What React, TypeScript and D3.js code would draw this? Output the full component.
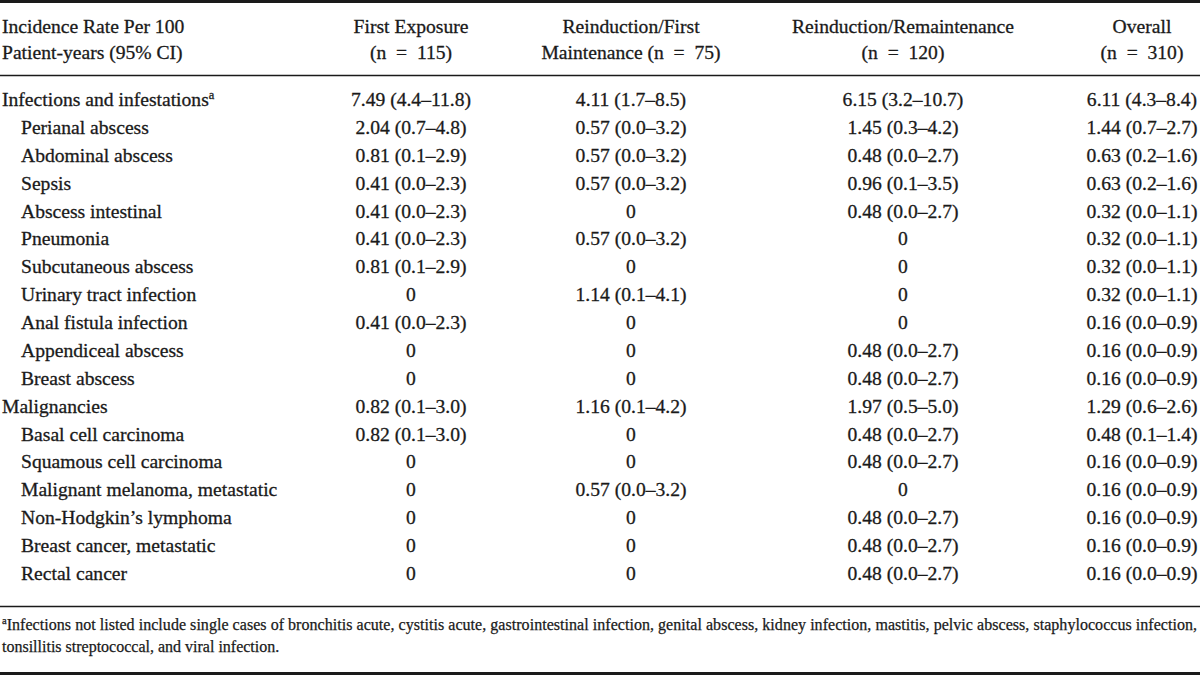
import React from "react";
import * as d3 from "d3";

const headerLine1 = ["Incidence Rate Per 100", "First Exposure", "Reinduction/First", "Reinduction/Remaintenance", "Overall"];
const headerLine2 = ["Patient-years (95% CI)", "(n = 115)", "Maintenance (n = 75)", "(n = 120)", "(n = 310)"];

const rowLabels = [
  "Infections and infestations",
  "Perianal abscess",
  "Abdominal abscess",
  "Sepsis",
  "Abscess intestinal",
  "Pneumonia",
  "Subcutaneous abscess",
  "Urinary tract infection",
  "Anal fistula infection",
  "Appendiceal abscess",
  "Breast abscess",
  "Malignancies",
  "Basal cell carcinoma",
  "Squamous cell carcinoma",
  "Malignant melanoma, metastatic",
  "Non-Hodgkin\u2019s lymphoma",
  "Breast cancer, metastatic",
  "Rectal cancer",
];
const rowLevels = [0, 1, 1, 1, 1, 1, 1, 1, 1, 1, 1, 0, 1, 1, 1, 1, 1, 1];
const rowSup = ["a", "", "", "", "", "", "", "", "", "", "", "", "", "", "", "", "", ""];

const firstExposure = [
  "7.49 (4.4\u201311.8)", "2.04 (0.7\u20134.8)", "0.81 (0.1\u20132.9)", "0.41 (0.0\u20132.3)", "0.41 (0.0\u20132.3)",
  "0.41 (0.0\u20132.3)", "0.81 (0.1\u20132.9)", "0", "0.41 (0.0\u20132.3)", "0", "0",
  "0.82 (0.1\u20133.0)", "0.82 (0.1\u20133.0)", "0", "0", "0", "0", "0",
];
const reinductionFirst = [
  "4.11 (1.7\u20138.5)", "0.57 (0.0\u20133.2)", "0.57 (0.0\u20133.2)", "0.57 (0.0\u20133.2)", "0",
  "0.57 (0.0\u20133.2)", "0", "1.14 (0.1\u20134.1)", "0", "0", "0",
  "1.16 (0.1\u20134.2)", "0", "0", "0.57 (0.0\u20133.2)", "0", "0", "0",
];
const reinductionRemaint = [
  "6.15 (3.2\u201310.7)", "1.45 (0.3\u20134.2)", "0.48 (0.0\u20132.7)", "0.96 (0.1\u20133.5)", "0.48 (0.0\u20132.7)",
  "0", "0", "0", "0", "0.48 (0.0\u20132.7)", "0.48 (0.0\u20132.7)",
  "1.97 (0.5\u20135.0)", "0.48 (0.0\u20132.7)", "0.48 (0.0\u20132.7)", "0", "0.48 (0.0\u20132.7)", "0.48 (0.0\u20132.7)", "0.48 (0.0\u20132.7)",
];
const overall = [
  "6.11 (4.3\u20138.4)", "1.44 (0.7\u20132.7)", "0.63 (0.2\u20131.6)", "0.63 (0.2\u20131.6)", "0.32 (0.0\u20131.1)",
  "0.32 (0.0\u20131.1)", "0.32 (0.0\u20131.1)", "0.32 (0.0\u20131.1)", "0.16 (0.0\u20130.9)", "0.16 (0.0\u20130.9)", "0.16 (0.0\u20130.9)",
  "1.29 (0.6\u20132.6)", "0.48 (0.1\u20131.4)", "0.16 (0.0\u20130.9)", "0.16 (0.0\u20130.9)", "0.16 (0.0\u20130.9)", "0.16 (0.0\u20130.9)", "0.16 (0.0\u20130.9)",
];

const footnoteLines = [
  "Infections not listed include single cases of bronchitis acute, cystitis acute, gastrointestinal infection, genital abscess, kidney infection, mastitis, pelvic abscess, staphylococcus infection,",
  "tonsillitis streptococcal, and viral infection.",
];

const W = 1200;
const H = 675;
const FONT = "'Liberation Serif', 'Times New Roman', serif";
const INK = "#1a1a1a";
const FS = 19.6;

export default function App() {
  const dataCols = [firstExposure, reinductionFirst, reinductionRemaint, overall];
  const colX = d3.scaleOrdinal<number, number>().domain([0, 1, 2, 3]).range([411, 631, 903, 1142]);
  const rowY = d3.scalePoint<number>().domain(d3.range(rowLabels.length)).range([106, 580]);
  const indent = d3.scaleOrdinal<number, number>().domain([0, 1]).range([2, 21]);

  // widen the spaces around "=" as in the typeset original
  const fmtHeader = (t: string) => t.replace(/ = /g, "\u2002=\u2002");

  return (
    <div style={{ position: "absolute", left: 0, top: 0, width: W, height: H, background: "#fff" }}>
      <svg width={W} height={H} style={{ display: "block" }} fontFamily={FONT} fill={INK}
        stroke={INK} strokeWidth={0.3}>
        <rect x={0} y={0} width={W} height={H} fill="#fff" stroke="none" />
        {/* rules */}
        <line x1={0} x2={W} y1={1.5} y2={1.5} stroke={INK} strokeWidth={3} />
        <line x1={0} x2={W} y1={75.5} y2={75.5} stroke={INK} strokeWidth={1.5} />
        <line x1={0} x2={W} y1={606.5} y2={606.5} stroke={INK} strokeWidth={1.5} />
        <line x1={0} x2={W} y1={673.5} y2={673.5} stroke={INK} strokeWidth={3} />

        {/* header */}
        {headerLine1.map((t, i) => (
          <text key={"h1" + i} x={i === 0 ? 2 : colX(i - 1)} y={33} fontSize={FS}
            textAnchor={i === 0 ? "start" : "middle"}>{fmtHeader(t)}</text>
        ))}
        {headerLine2.map((t, i) => (
          <text key={"h2" + i} x={i === 0 ? 2 : colX(i - 1)} y={59} fontSize={FS}
            textAnchor={i === 0 ? "start" : "middle"}>{fmtHeader(t)}</text>
        ))}

        {/* rows */}
        {rowLabels.map((lab, r) => (
          <g key={"r" + r}>
            <text x={indent(rowLevels[r])} y={rowY(r)} fontSize={FS}>
              {lab}
              {rowSup[r] ? <tspan fontSize={12.5} dy={-7.5}>{rowSup[r]}</tspan> : null}
            </text>
            {dataCols.map((col, c) => (
              <text key={"c" + c} x={colX(c)} y={rowY(r)} fontSize={FS} textAnchor="middle">{col[r]}</text>
            ))}
          </g>
        ))}

        {/* footnote */}
        <text x={2} y={630} fontSize={16} textLength={1195} lengthAdjust="spacing" strokeWidth={0.25}>
          <tspan fontSize={10.5} dy={-6}>a</tspan>
          <tspan dy={6}>{footnoteLines[0]}</tspan>
        </text>
        <text x={2} y={652} fontSize={16} strokeWidth={0.25}>{footnoteLines[1]}</text>
      </svg>
    </div>
  );
}
